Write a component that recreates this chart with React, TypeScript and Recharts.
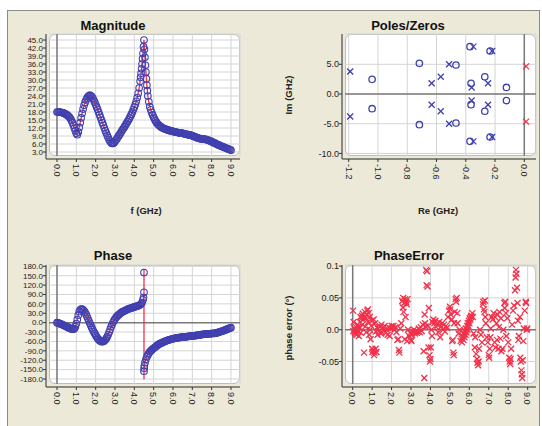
import React from "react";
import {
  CartesianGrid,
  Line,
  LineChart,
  ReferenceLine,
  Scatter,
  ScatterChart,
  XAxis,
  YAxis,
} from "recharts";

// ---- data: [frequency GHz, value] ----

const magnitudePoints: [number, number][] = [
  [0, 18.0], [0.05, 18.0], [0.1, 18.0], [0.15, 17.95], [0.2, 17.9], [0.25, 17.8], [0.3, 17.7], [0.35, 17.55],
  [0.4, 17.4], [0.45, 17.2], [0.5, 17.0], [0.55, 16.7], [0.6, 16.4], [0.65, 16.0], [0.7, 15.5], [0.75, 14.8],
  [0.8, 14.0], [0.85, 13.0], [0.9, 12.0], [0.95, 11.0], [1.0, 10.0], [1.05, 9.5], [1.1, 10.5], [1.15, 12.2],
  [1.2, 14.0], [1.25, 15.8], [1.3, 17.5], [1.35, 19.1], [1.4, 20.5], [1.45, 21.6], [1.5, 22.5], [1.55, 23.2],
  [1.6, 23.8], [1.65, 24.1], [1.7, 24.3], [1.75, 24.1], [1.8, 23.8], [1.85, 23.2], [1.9, 22.5], [1.95, 21.7],
  [2.0, 20.8], [2.05, 19.9], [2.1, 19.0], [2.15, 18.0], [2.2, 17.0], [2.25, 16.0], [2.3, 15.0], [2.35, 14.0],
  [2.4, 13.0], [2.45, 12.0], [2.5, 11.0], [2.55, 10.1], [2.6, 9.2], [2.65, 8.4], [2.7, 7.6], [2.75, 7.0],
  [2.8, 6.5], [2.85, 6.2], [2.9, 6.2], [2.95, 6.5], [3.0, 7.0], [3.05, 7.5], [3.1, 8.0], [3.15, 8.6],
  [3.2, 9.2], [3.25, 9.7], [3.3, 10.3], [3.35, 10.9], [3.4, 11.5], [3.45, 12.0], [3.5, 12.6], [3.55, 13.2],
  [3.6, 13.8], [3.65, 14.4], [3.7, 15.0], [3.75, 15.7], [3.8, 16.5], [3.85, 17.2], [3.9, 18.0], [3.95, 18.9],
  [4.0, 19.8], [4.05, 20.8], [4.1, 22.0], [4.15, 23.4], [4.2, 25.0], [4.25, 27.0], [4.3, 29.5], [4.325, 31.0],
  [4.35, 32.5], [4.375, 34.2], [4.4, 36.0], [4.425, 38.0], [4.45, 40.0], [4.475, 42.5], [4.5, 45.0], [4.525, 41.5],
  [4.55, 38.5], [4.575, 35.5], [4.6, 33.0], [4.625, 30.5], [4.65, 28.0], [4.675, 26.0], [4.7, 24.0], [4.75, 21.8],
  [4.8, 20.0], [4.85, 18.8], [4.9, 17.8], [4.95, 16.9], [5.0, 16.0], [5.05, 15.3], [5.1, 14.6], [5.15, 14.1],
  [5.2, 13.6], [5.25, 13.2], [5.3, 12.9], [5.35, 12.6], [5.4, 12.3], [5.45, 12.1], [5.5, 11.9], [5.55, 11.75],
  [5.6, 11.6], [5.65, 11.45], [5.7, 11.3], [5.75, 11.2], [5.8, 11.1], [5.85, 11.0], [5.9, 10.9], [5.95, 10.8],
  [6.0, 10.7], [6.05, 10.6], [6.1, 10.5], [6.15, 10.45], [6.2, 10.4], [6.25, 10.3], [6.3, 10.2], [6.35, 10.15],
  [6.4, 10.1], [6.45, 10.05], [6.5, 10.0], [6.55, 9.9], [6.6, 9.8], [6.65, 9.7], [6.7, 9.6], [6.75, 9.55],
  [6.8, 9.5], [6.85, 9.4], [6.9, 9.3], [6.95, 9.2], [7.0, 9.1], [7.05, 8.95], [7.1, 8.8], [7.15, 8.65],
  [7.2, 8.5], [7.25, 8.35], [7.3, 8.2], [7.35, 8.1], [7.4, 8.0], [7.45, 7.95], [7.5, 7.9], [7.55, 7.85],
  [7.6, 7.8], [7.65, 7.75], [7.7, 7.7], [7.75, 7.6], [7.8, 7.5], [7.85, 7.35], [7.9, 7.2], [7.95, 7.05],
  [8.0, 6.9], [8.05, 6.7], [8.1, 6.5], [8.15, 6.35], [8.2, 6.2], [8.25, 6.0], [8.3, 5.8], [8.35, 5.65],
  [8.4, 5.5], [8.45, 5.35], [8.5, 5.2], [8.55, 5.05], [8.6, 4.9], [8.65, 4.75], [8.7, 4.6], [8.75, 4.45],
  [8.8, 4.3], [8.85, 4.15], [8.9, 4.0], [8.95, 3.85], [9.0, 3.7],
];

const phasePoints: [number, number][] = [
  [0, 0], [0.05, -1], [0.1, -2], [0.15, -3.2], [0.2, -4.5], [0.25, -5.8], [0.3, -7], [0.35, -8.5],
  [0.4, -10], [0.45, -11.5], [0.5, -13], [0.55, -14.5], [0.6, -16], [0.65, -17.5], [0.7, -19], [0.75, -20],
  [0.8, -21], [0.85, -21], [0.9, -19], [0.95, -13], [1.0, -3], [1.05, 10], [1.1, 24], [1.15, 35],
  [1.2, 41], [1.25, 43], [1.3, 43], [1.35, 41], [1.4, 38], [1.45, 33], [1.5, 27], [1.55, 20],
  [1.6, 13], [1.65, 5.5], [1.7, -2], [1.75, -9], [1.8, -16], [1.85, -22.5], [1.9, -29], [1.95, -34.5],
  [2.0, -40], [2.05, -45], [2.1, -50], [2.15, -53.5], [2.2, -57], [2.25, -59], [2.3, -61], [2.35, -61],
  [2.4, -60], [2.45, -58], [2.5, -55], [2.55, -50.5], [2.6, -45], [2.65, -38], [2.7, -30], [2.75, -21.5],
  [2.8, -13], [2.85, -6], [2.9, 1], [2.95, 7], [3.0, 12], [3.05, 16.5], [3.1, 20], [3.15, 23],
  [3.2, 26], [3.25, 28.5], [3.3, 31], [3.35, 33], [3.4, 35], [3.45, 36.5], [3.5, 38], [3.55, 39.5],
  [3.6, 41], [3.65, 42.5], [3.7, 44], [3.75, 45], [3.8, 46], [3.85, 47], [3.9, 48], [3.95, 49],
  [4.0, 50], [4.05, 51], [4.1, 52], [4.15, 53], [4.2, 54], [4.25, 55.5], [4.3, 57], [4.35, 60],
  [4.4, 64], [4.45, 73], [4.475, 80], [4.5, 97], [4.5, 160], [4.5, -155], [4.51, -146], [4.52, -138],
  [4.55, -128], [4.6, -117], [4.65, -109], [4.7, -103], [4.75, -97.5], [4.8, -93], [4.85, -90], [4.9, -87],
  [4.95, -84.5], [5.0, -82], [5.05, -79.5], [5.1, -77], [5.15, -74.5], [5.2, -72], [5.25, -70], [5.3, -68],
  [5.35, -66.5], [5.4, -65], [5.45, -63.5], [5.5, -62], [5.55, -60.7], [5.6, -59.5], [5.65, -58.2], [5.7, -57],
  [5.75, -56], [5.8, -55], [5.85, -54], [5.9, -53], [5.95, -52.2], [6.0, -51.5], [6.05, -50.7], [6.1, -50],
  [6.15, -49.5], [6.2, -49], [6.25, -48.5], [6.3, -48], [6.35, -47.5], [6.4, -47], [6.45, -46.5], [6.5, -46],
  [6.55, -45.7], [6.6, -45.5], [6.65, -45.2], [6.7, -45], [6.75, -44.5], [6.8, -44], [6.85, -43.5], [6.9, -43],
  [6.95, -42.7], [7.0, -42.5], [7.05, -42.2], [7.1, -42], [7.15, -41.5], [7.2, -41], [7.25, -40.5], [7.3, -40],
  [7.35, -39.5], [7.4, -39], [7.45, -38.5], [7.5, -38], [7.55, -37.5], [7.6, -37], [7.65, -36.7], [7.7, -36.5],
  [7.75, -36.2], [7.8, -36], [7.85, -35.7], [7.9, -35.5], [7.95, -35.2], [8.0, -35], [8.05, -34.7], [8.1, -34.5],
  [8.15, -34], [8.2, -33.5], [8.25, -32.7], [8.3, -32], [8.35, -31], [8.4, -30], [8.45, -29], [8.5, -28],
  [8.55, -27], [8.6, -26], [8.65, -24.8], [8.7, -23.5], [8.75, -22.3], [8.8, -21], [8.85, -19.8], [8.9, -18.5],
  [8.95, -17.2], [9.0, -16],
];
// the fitted curve wraps from +180 to -180 at the resonance
const phaseWrapPoints: [number, number][] = [[4.5, 172], [4.5, -182]];

const poleRe = [-1.19, -1.19, -0.633, -0.633, -0.571, -0.571, -0.514, -0.514, -0.348, -0.348, -0.36, -0.36, -0.248, -0.248, -0.22, -0.22];
const poleIm = [3.8, -3.8, 1.8, -1.8, 2.9, -2.9, 5.0, -5.0, 7.97, -7.97, 1.1, -1.1, 1.8, -1.8, 7.24, -7.24];
const zeroRe = [-1.04, -1.04, -0.717, -0.717, -0.467, -0.467, -0.371, -0.371, -0.364, -0.364, -0.27, -0.27, -0.234, -0.234, -0.122, -0.122];
const zeroIm = [2.47, -2.47, 5.17, -5.17, 4.88, -4.88, 7.97, -7.97, 1.8, -1.8, 2.9, -2.9, 7.24, -7.24, 1.1, -1.1];
const rhpRe = [0.012, 0.012];
const rhpIm = [4.65, -4.65];

const phaseErr: [number, number][] = [
  [0.02, 0.03], [0.03, -0.002], [0.05, 0.012], [0.08, 0.002], [0.1, -0.004], [0.12, 0.0], [0.15, -0.006], [0.18, 0.004],
  [0.2, -0.008], [0.22, 0.0], [0.25, 0.008], [0.28, -0.003], [0.3, 0.005], [0.32, -0.01], [0.35, 0.002], [0.38, 0.012],
  [0.4, 0.02], [0.42, -0.005], [0.45, 0.018], [0.48, 0.022], [0.5, 0.008], [0.52, 0.025], [0.55, 0.016], [0.58, -0.036],
  [0.6, 0.02], [0.62, 0.028], [0.65, 0.005], [0.68, 0.018], [0.7, -0.004], [0.72, 0.024], [0.75, 0.03], [0.78, 0.032],
  [0.8, 0.012], [0.82, 0.026], [0.85, -0.008], [0.88, 0.02], [0.9, 0.0], [0.92, -0.015], [0.95, 0.006], [0.98, 0.014],
  [1.0, -0.03], [1.02, -0.035], [1.05, -0.032], [1.08, 0.016], [1.1, -0.04], [1.12, -0.036], [1.15, 0.01], [1.18, -0.03],
  [1.2, -0.003], [1.22, -0.035], [1.25, 0.004], [1.28, -0.008], [1.3, 0.002], [1.35, -0.002], [1.4, 0.005], [1.45, -0.006],
  [1.48, 0.008], [1.5, -0.004], [1.55, 0.003], [1.6, -0.001], [1.65, 0.006], [1.7, -0.005], [1.75, 0.0], [1.8, -0.008],
  [1.85, 0.004], [1.9, -0.01], [1.95, 0.002], [2.0, 0.006], [2.05, 0.003], [2.1, 0.006], [2.15, 0.0], [2.2, 0.004],
  [2.25, -0.004], [2.3, -0.016], [2.35, -0.015], [2.38, -0.032], [2.4, -0.036], [2.45, 0.002], [2.5, 0.01],
  [2.55, 0.045], [2.58, 0.035], [2.6, 0.05], [2.62, 0.028], [2.65, 0.042], [2.68, -0.015], [2.7, 0.048], [2.72, 0.02],
  [2.75, 0.044], [2.78, 0.04], [2.8, -0.018], [2.82, 0.048], [2.85, 0.0], [2.9, -0.01], [2.95, -0.005],
  [3.0, -0.016], [3.02, -0.018], [3.05, -0.008], [3.1, -0.004], [3.15, 0.0], [3.2, -0.006], [3.25, -0.002], [3.3, -0.005],
  [3.35, -0.003], [3.4, 0.002], [3.45, -0.004], [3.5, 0.004], [3.55, -0.002], [3.6, 0.008], [3.65, -0.034], [3.68, -0.076],
  [3.7, 0.024], [3.72, 0.01], [3.75, 0.005], [3.78, 0.094], [3.8, 0.07], [3.82, 0.092], [3.85, 0.068], [3.88, 0.006],
  [3.9, -0.028], [3.92, 0.034], [3.95, -0.04], [3.98, -0.05], [4.0, -0.046], [4.02, -0.028], [4.05, 0.0], [4.08, -0.01],
  [4.1, 0.012], [4.15, 0.016], [4.2, 0.01], [4.25, 0.014], [4.3, 0.004], [4.35, 0.008], [4.4, -0.004], [4.45, 0.012],
  [4.5, -0.012], [4.55, 0.005], [4.6, 0.01], [4.65, 0.0], [4.7, 0.008], [4.75, -0.003], [4.8, 0.006], [4.85, 0.003],
  [4.9, 0.02], [4.95, 0.03], [5.0, 0.036], [5.02, 0.032], [5.05, 0.024], [5.1, 0.016], [5.12, -0.018], [5.15, -0.016],
  [5.18, -0.036], [5.2, -0.04], [5.22, 0.01], [5.25, 0.028], [5.3, 0.048], [5.32, 0.044], [5.35, 0.05], [5.38, 0.026],
  [5.4, 0.01], [5.45, -0.006], [5.5, 0.0], [5.55, -0.018], [5.6, -0.014], [5.62, -0.02], [5.65, -0.01], [5.7, -0.016],
  [5.72, -0.006], [5.75, -0.012], [5.78, -0.002], [5.8, -0.008], [5.82, 0.002], [5.85, -0.004], [5.88, 0.006], [5.9, 0.0],
  [5.92, 0.01], [5.95, 0.006], [5.98, 0.014], [6.0, 0.01], [6.02, 0.018], [6.05, 0.016], [6.08, 0.02], [6.1, 0.022],
  [6.15, 0.026], [6.18, 0.02], [6.22, -0.006], [6.28, -0.028], [6.3, -0.012], [6.35, -0.038], [6.4, -0.046], [6.42, -0.052],
  [6.45, -0.056], [6.48, -0.05], [6.5, -0.03], [6.55, 0.0], [6.6, -0.008], [6.65, -0.02], [6.7, 0.04], [6.72, 0.044],
  [6.75, 0.032], [6.78, 0.028], [6.8, 0.046], [6.82, 0.02], [6.85, 0.01], [6.9, -0.012], [6.95, -0.02], [7.0, -0.04],
  [7.02, -0.044], [7.05, -0.03], [7.08, -0.012], [7.1, 0.002], [7.15, 0.02], [7.2, 0.016], [7.25, 0.026], [7.3, -0.02],
  [7.32, 0.02], [7.35, -0.028], [7.4, 0.01], [7.42, -0.016], [7.45, 0.024], [7.5, -0.03], [7.52, 0.004], [7.55, 0.028],
  [7.6, -0.014], [7.62, 0.018], [7.65, -0.034], [7.7, -0.03], [7.75, 0.0], [7.8, 0.042], [7.82, 0.034], [7.85, 0.044],
  [7.88, 0.026], [7.9, -0.01], [7.95, 0.018], [8.0, -0.02], [8.05, -0.044], [8.08, -0.05], [8.1, -0.054], [8.12, -0.046],
  [8.15, -0.03], [8.2, 0.008], [8.25, 0.03], [8.3, 0.038], [8.35, 0.062], [8.38, 0.082], [8.4, 0.094], [8.42, 0.088],
  [8.45, 0.066], [8.48, 0.042], [8.5, 0.014], [8.52, -0.016], [8.55, -0.01], [8.6, 0.02], [8.62, -0.044], [8.65, -0.05],
  [8.68, -0.064], [8.7, -0.07], [8.72, -0.076], [8.75, -0.048], [8.78, -0.018], [8.8, 0.002], [8.85, 0.03], [8.9, 0.044],
  [8.92, 0.042], [8.95, 0.0], [8.98, 0.002],
];

const freqTicks = [0, 1, 2, 3, 4, 5, 6, 7, 8, 9];
const magTicks = [3, 6, 9, 12, 15, 18, 21, 24, 27, 30, 33, 36, 39, 42, 45];
const phaseTicks = [-180, -150, -120, -90, -60, -30, 0, 30, 60, 90, 120, 150, 180];
const reTicks = [-1.2, -1.0, -0.8, -0.6, -0.4, -0.2, 0];
const imTicks = [-10, -5, 0, 5];
const errTicks = [-0.05, 0, 0.05, 0.1];
const errTickLabels = ["-0.05", "0.0", "0.05", "0.1"];

// ---- derived tables ----
const magData = magnitudePoints.map(([f, v]) => ({ f, v }));
const phaseData = phasePoints.map(([f, v]) => ({ f, v }));
const wrapAt = phaseData.findIndex((d) => d.v < -100);
const phaseFit = [
  ...phaseData.slice(0, wrapAt),
  ...phaseWrapPoints.map(([f, v]) => ({ f, v })),
  ...phaseData.slice(wrapAt),
];
const poles = poleRe.map((re, i) => ({ re, im: poleIm[i] }));
const zeros = zeroRe.map((re, i) => ({ re, im: zeroIm[i] }));
const rhpPoles = rhpRe.map((re, i) => ({ re, im: rhpIm[i] }));
const errData = phaseErr.map(([f, v]) => ({ f, v }));

// ---- styling ----
const FONT = '"Liberation Sans", Arial, sans-serif';
const AXIS = "#333";
const GRID = "#d4d4d4";
const ZERO = "#7a7a7a";
const BLUE = "#4040b0";
const RED = "#f2304a";
const tickStyle = { fontSize: 9, fill: "#1c1c1c", fontFamily: FONT };
const denseTickStyle = { fontSize: 8, fill: "#1c1c1c", fontFamily: FONT };

const fmt1 = (v: number) => Number(v).toFixed(1);

function VTick(props: any) {
  const { x, y, payload } = props;
  return (
    <text
      transform={`translate(${x - 3.2},${y}) rotate(90)`}
      fontSize={9}
      fill="#1c1c1c"
      fontFamily={FONT}
      textAnchor="start"
    >
      {fmt1(payload.value)}
    </text>
  );
}

function XMark(props: any) {
  const { cx, cy, color } = props;
  const s = 3;
  return (
    <g stroke={color} strokeWidth={1.3}>
      <line x1={cx - s} y1={cy - s} x2={cx + s} y2={cy + s} />
      <line x1={cx - s} y1={cy + s} x2={cx + s} y2={cy - s} />
    </g>
  );
}

function OMark(props: any) {
  const { cx, cy } = props;
  return <circle cx={cx} cy={cy} r={3.2} fill="none" stroke={BLUE} strokeWidth={1.3} />;
}

function Box({ left, top, width, height }: { left: number; top: number; width: number; height: number }) {
  return (
    <div
      style={{
        position: "absolute",
        left,
        top,
        width,
        height,
        background: "#fff",
        border: "1px solid #bcbcbc",
        borderRadius: 6,
        boxSizing: "border-box",
      }}
    />
  );
}

function Title({ x, y, text }: { x: number; y: number; text: string }) {
  return (
    <div
      style={{
        position: "absolute",
        left: x,
        top: y,
        transform: "translate(-50%, -50%)",
        fontFamily: FONT,
        fontWeight: "bold",
        fontSize: 13,
        lineHeight: 1,
        color: "#111",
        whiteSpace: "nowrap",
      }}
    >
      {text}
    </div>
  );
}

function AxisLabel({ x, y, text, vertical }: { x: number; y: number; text: string; vertical?: boolean }) {
  return (
    <div
      style={{
        position: "absolute",
        left: x,
        top: y,
        transform: `translate(-50%, -50%)${vertical ? " rotate(-90deg)" : ""}`,
        fontFamily: FONT,
        fontWeight: "bold",
        fontSize: 9.5,
        lineHeight: 1,
        color: "#222",
        whiteSpace: "nowrap",
      }}
    >
      {text}
    </div>
  );
}

const dotCircle = (p: any) => (
  <circle key={`c${p.index}`} cx={p.cx} cy={p.cy} r={3.3} fill="none" stroke={BLUE} strokeWidth={1.1} />
);

function MagnitudeChart() {
  return (
    <div style={{ position: "absolute", left: 0, top: 0, width: 271, height: 213 }}>
      <Box left={49} top={34} width={191} height={122} />
      <LineChart width={271} height={213} data={magData} margin={{ top: 34, right: 31, bottom: 24, left: 6 }}>
        <CartesianGrid x={49} y={34} width={191} height={122} stroke={GRID} />
        <XAxis
          dataKey="f"
          type="number"
          domain={[-0.569, 9.467]}
          allowDataOverflow
          ticks={freqTicks}
          interval={0}
          tick={<VTick />}
          tickSize={3}
          height={30}
          axisLine={{ stroke: AXIS }}
          tickLine={{ stroke: AXIS }}
        />
        <YAxis
          type="number"
          domain={[0.375, 47.25]}
          allowDataOverflow
          ticks={magTicks}
          interval={0}
          tickFormatter={fmt1}
          tick={denseTickStyle}
          tickSize={3}
          tickMargin={0}
          width={40}
          axisLine={{ stroke: AXIS }}
          tickLine={{ stroke: AXIS }}
        />
        <ReferenceLine segment={[{ x: 0, y: 1.5 }, { x: 0, y: 47.25 }]} stroke={ZERO} strokeWidth={1.5} />
        <Line dataKey="v" stroke="none" dot={dotCircle} activeDot={false} isAnimationActive={false} />
        <Line dataKey="v" stroke={RED} strokeWidth={1.3} dot={false} activeDot={false} isAnimationActive={false} />
      </LineChart>
    </div>
  );
}

function PhaseChart() {
  return (
    <div style={{ position: "absolute", left: 0, top: 213, width: 271, height: 213 }}>
      <Box left={49} top={52} width={191} height={119} />
      <LineChart width={271} height={213} data={phaseData} margin={{ top: 52, right: 31, bottom: 9, left: 6 }}>
        <CartesianGrid x={49} y={52} width={191} height={119} stroke={GRID} />
        <XAxis
          dataKey="f"
          type="number"
          domain={[-0.569, 9.467]}
          allowDataOverflow
          ticks={freqTicks}
          interval={0}
          tick={<VTick />}
          tickSize={3}
          height={30}
          axisLine={{ stroke: AXIS }}
          tickLine={{ stroke: AXIS }}
        />
        <YAxis
          type="number"
          domain={[-205.6, 184.2]}
          allowDataOverflow
          ticks={phaseTicks}
          interval={0}
          tickFormatter={fmt1}
          tick={denseTickStyle}
          tickSize={3}
          tickMargin={0}
          width={40}
          axisLine={{ stroke: AXIS }}
          tickLine={{ stroke: AXIS }}
        />
        <ReferenceLine segment={[{ x: 0, y: -196 }, { x: 0, y: 184.2 }]} stroke={ZERO} strokeWidth={1.5} />
        <ReferenceLine segment={[{ x: -0.414, y: 0 }, { x: 9.467, y: 0 }]} stroke={ZERO} strokeWidth={1.5} />
        <Line dataKey="v" stroke="none" dot={dotCircle} activeDot={false} isAnimationActive={false} />
        <Line
          data={phaseFit}
          dataKey="v"
          stroke={RED}
          strokeWidth={1.3}
          dot={false}
          activeDot={false}
          isAnimationActive={false}
        />
      </LineChart>
    </div>
  );
}

function PoleZeroChart() {
  return (
    <div style={{ position: "absolute", left: 271, top: 0, width: 271, height: 213 }}>
      <Box left={74} top={34} width={191} height={122} />
      <ScatterChart width={271} height={213} margin={{ top: 34, right: 6, bottom: 24, left: 31 }}>
        <CartesianGrid x={74} y={34} width={191} height={122} stroke={GRID} />
        <XAxis
          dataKey="re"
          type="number"
          domain={[-1.2458, 0.0799]}
          allowDataOverflow
          ticks={reTicks}
          interval={0}
          tick={<VTick />}
          tickSize={3}
          height={30}
          axisLine={{ stroke: AXIS }}
          tickLine={{ stroke: AXIS }}
        />
        <YAxis
          dataKey="im"
          type="number"
          domain={[-10.94, 10.1]}
          allowDataOverflow
          ticks={imTicks}
          interval={0}
          tickFormatter={fmt1}
          tick={tickStyle}
          tickSize={3}
          tickMargin={0}
          width={40}
          axisLine={{ stroke: AXIS }}
          tickLine={{ stroke: AXIS }}
        />
        <ReferenceLine segment={[{ x: 0, y: -10.44 }, { x: 0, y: 10.1 }]} stroke={ZERO} strokeWidth={1.5} />
        <ReferenceLine segment={[{ x: -1.2247, y: 0 }, { x: 0.0799, y: 0 }]} stroke={ZERO} strokeWidth={1.5} />
        <Scatter data={zeros} shape={(p: any) => <OMark {...p} />} isAnimationActive={false} />
        <Scatter data={poles} shape={(p: any) => <XMark {...p} color={BLUE} />} isAnimationActive={false} />
        <Scatter data={rhpPoles} shape={(p: any) => <XMark {...p} color={RED} />} isAnimationActive={false} />
      </ScatterChart>
    </div>
  );
}

function PhaseErrorChart() {
  return (
    <div style={{ position: "absolute", left: 271, top: 213, width: 271, height: 213 }}>
      <Box left={74} top={52} width={191} height={119} />
      <ScatterChart width={271} height={213} margin={{ top: 52, right: 6, bottom: 9, left: 31 }}>
        <CartesianGrid x={74} y={52} width={191} height={119} stroke={GRID} />
        <XAxis
          dataKey="f"
          type="number"
          domain={[-0.55, 9.429]}
          allowDataOverflow
          ticks={freqTicks}
          interval={0}
          tick={<VTick />}
          tickSize={3}
          height={30}
          axisLine={{ stroke: AXIS }}
          tickLine={{ stroke: AXIS }}
        />
        <YAxis
          dataKey="v"
          type="number"
          domain={[-0.0901, 0.1017]}
          allowDataOverflow
          ticks={errTicks}
          interval={0}
          tickFormatter={(v: number) => errTickLabels[errTicks.indexOf(v)] ?? String(v)}
          tick={tickStyle}
          tickSize={3}
          tickMargin={0}
          width={40}
          axisLine={{ stroke: AXIS }}
          tickLine={{ stroke: AXIS }}
        />
        <ReferenceLine segment={[{ x: 0, y: -0.0854 }, { x: 0, y: 0.1017 }]} stroke={ZERO} strokeWidth={1.5} />
        <ReferenceLine segment={[{ x: -0.396, y: 0 }, { x: 9.429, y: 0 }]} stroke={ZERO} strokeWidth={1.5} />
        <Scatter data={errData} shape={(p: any) => <XMark {...p} color={RED} />} isAnimationActive={false} />
      </ScatterChart>
    </div>
  );
}

export default function App() {
  return (
    <div
      style={{
        position: "absolute",
        left: 0,
        top: 0,
        width: 542,
        height: 426,
        overflow: "hidden",
        background: "#fff",
      }}
    >
      <div
        style={{
          position: "absolute",
          left: 7,
          top: 10,
          width: 533,
          height: 440,
          background: "#ECE9D8",
          border: "1px solid #8a8a8a",
          boxSizing: "border-box",
        }}
      />
      <MagnitudeChart />
      <PoleZeroChart />
      <PhaseChart />
      <PhaseErrorChart />
      <Title x={113} y={25} text="Magnitude" />
      <Title x={408} y={25} text="Poles/Zeros" />
      <Title x={113} y={255} text="Phase" />
      <Title x={409} y={255} text="PhaseError" />
      <AxisLabel x={146} y={211} text="f (GHz)" />
      <AxisLabel x={438} y={211} text="Re (GHz)" />
      <AxisLabel x={289} y={95} text="Im (GHz)" vertical />
      <AxisLabel x={289} y={328} text="phase error (°)" vertical />
    </div>
  );
}
